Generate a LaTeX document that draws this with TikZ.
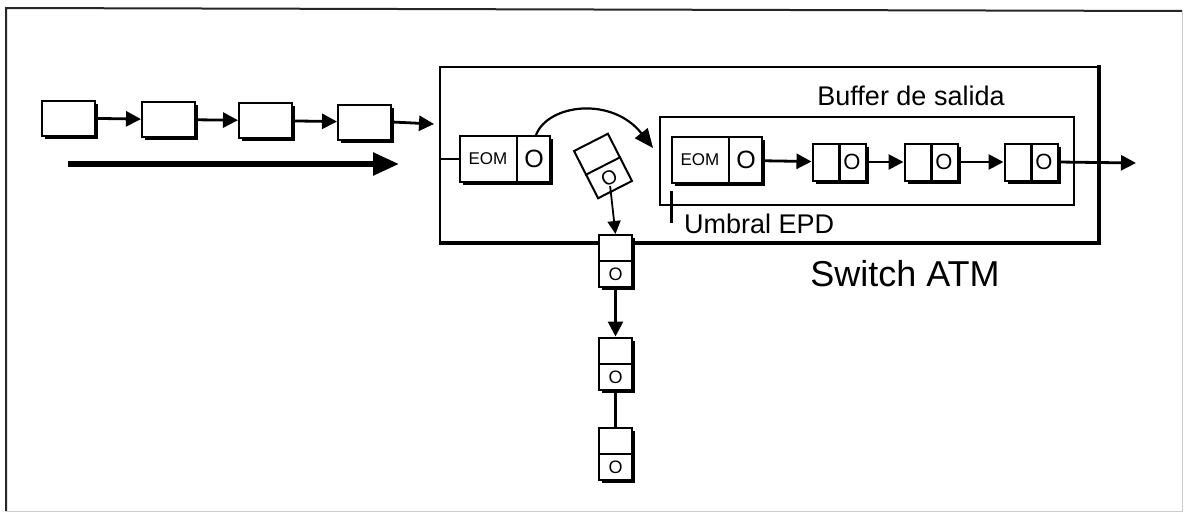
\documentclass[tikz,border=0pt]{standalone}
\usepackage{fontspec}
\setmainfont{Liberation Sans}
\usetikzlibrary{arrows.meta,shadows,calc}
\begin{document}
\begin{tikzpicture}[x=1pt,y=-1pt,
  shadowed/.style={drop shadow={shadow xshift=3pt,shadow yshift=-3pt,opacity=1,fill=black}},
  lbox/.style={draw=black,line width=2pt,fill=white,inner sep=0pt,minimum width=53pt,minimum height=35pt,shadowed},
  eombox/.style={draw=black,line width=2pt,fill=white,inner sep=0pt,minimum width=90pt,minimum height=46pt,shadowed},
  smallcell/.style={draw=black,line width=2pt,fill=white,inner sep=0pt,minimum width=53pt,minimum height=37pt,shadowed},
  vcell/.style={draw=black,line width=2pt,fill=white,inner sep=0pt,minimum width=33pt,minimum height=52pt,shadowed},
  conn/.style={line width=2.8pt,-{Triangle[length=15pt,width=15pt]}},
  thinconn/.style={line width=1.8pt,-{Triangle[length=13pt,width=13pt]}},
  eomtxt/.style={font=\fontsize{17}{17}\selectfont,inner sep=0pt},
  bigO/.style={font=\fontsize{25}{25}\selectfont,inner sep=0pt},
  midO/.style={font=\fontsize{22}{22}\selectfont,inner sep=0pt},
  smallO/.style={font=\fontsize{18}{18}\selectfont,inner sep=0pt},
  lbl/.style={font=\fontsize{27}{27}\selectfont,inner sep=0pt}
]
\useasboundingbox (0,0) rectangle (1186,514);
% outer frame
\coordinate (f1) at (6,511);
\coordinate (f2) at (6,8);
\coordinate (f3) at (1182,11);
\coordinate (f4) at (1182,511);
\draw[line width=2pt,black!85] (f1) -- (f2) -- (f3);
\draw[line width=1pt,black!20] (f3) -- (f4) -- (f1);

% incoming cells
\node[lbox] (b1) at (68,118) {};
\node[lbox] (b2) at (168.5,119.5) {};
\node[lbox] (b3) at (265.5,120.5) {};
\node[lbox] (b4) at (364.5,122) {};
\coordinate (sin) at (434,124);
\draw[conn] (b1) -- (b2);
\draw[conn] (b2) -- (b3);
\draw[conn] (b3) -- (b4);
\draw[conn] (b4.east) -- (sin);
\coordinate (la1) at (68,164);
\coordinate (la2) at (399,164);
\draw[line width=5.5pt,-{Triangle[length=26pt,width=22pt]}] (la1) -- (la2);

% switch
\node[draw=black,line width=2pt,inner sep=0pt,minimum width=658pt,minimum height=175pt] (sw) at (769,154.5) {};
\draw[line width=4.5pt] ([yshift=1pt]sw.north east) -- (sw.south east) -- (sw.south west);

% EOM cell at input
\node[eombox] (e1) at (505,159) {};
\draw[line width=2.6pt] (sw.west |- e1.west) -- (e1.west);
\draw[line width=2pt] ([xshift=12pt]e1.north) -- ([xshift=12pt]e1.south);
\node[eomtxt] (e1t) at ([xshift=-17pt]e1.center) {EOM};
\node[bigO] (e1o) at ([xshift=29pt]e1.center) {O};

% curved arrow
\coordinate (cstart) at ([xshift=-15pt]e1.north east);
\coordinate (cend) at (653,148);
\draw[line width=2.2pt,-{Triangle[length=19pt,width=16pt]}] (cstart) .. controls (548,104) and (612,96) .. (cend);

% output buffer
\node[draw=black,line width=1.6pt,inner sep=0pt,minimum width=414pt,minimum height=88pt] (buf) at (867,161) {};
\node[lbl] (buftxt) at (911,96) {Buffer de salida};
\coordinate (t1) at (671,191);
\coordinate (t2) at (671,223);
\draw[line width=3pt] (t1) -- (t2);
\node[lbl,anchor=west] (umbral) at (684,224) {Umbral EPD};

\node[eombox] (e2) at (717,160) {};
\draw[line width=2pt] ([xshift=12pt]e2.north) -- ([xshift=12pt]e2.south);
\node[eomtxt] (e2t) at ([xshift=-17pt]e2.center) {EOM};
\node[bigO] (e2o) at ([xshift=29pt]e2.center) {O};

\node[smallcell] (ca) at (839,162) {};
\node[smallcell] (cb) at (931,162) {};
\node[smallcell] (cc) at (1031,162) {};
\foreach \c in {ca,cb,cc}{
  \draw[line width=3pt] (\c.north) -- (\c.south);
  \node[midO] at ([xshift=13pt]\c.center) {O};
}
\draw[conn] (e2) -- (ca);
\draw[conn] (ca) -- (cb);
\draw[conn] (cb) -- (cc);
\coordinate (out) at (1136,163);
\draw[conn] (cc.east) -- (out);

% discarded cell
\node[draw=black,line width=2pt,fill=white,inner sep=0pt,minimum width=38pt,minimum height=53pt,rotate=27] (tc) at (603,166) {};
\draw[line width=2pt] (tc.west) -- (tc.east);
\node[font=\fontsize{20}{20}\selectfont,inner sep=0pt,rotate=27] (tco) at ($(tc.center)!0.5!(tc.south)$) {O};

% discarded cells column
\node[vcell] (v1) at (615.5,261) {};
\node[vcell] (v2) at (615.5,363.5) {};
\node[vcell] (v3) at (615.5,453.5) {};
\foreach \c in {v1,v2,v3}{
  \draw[line width=2pt] (\c.west) -- (\c.east);
  \node[smallO] at ($(\c.center)!0.5!(\c.south)$) {O};
}
\draw[thinconn] (tco) -- (v1.north);
\draw[conn] (v1) -- (v2);
\draw[line width=2.6pt] (v2) -- (v3);

\node[font=\fontsize{36}{36}\selectfont,inner sep=0pt] (swtxt) at (905,274) {Switch ATM};
\end{tikzpicture}
\end{document}
